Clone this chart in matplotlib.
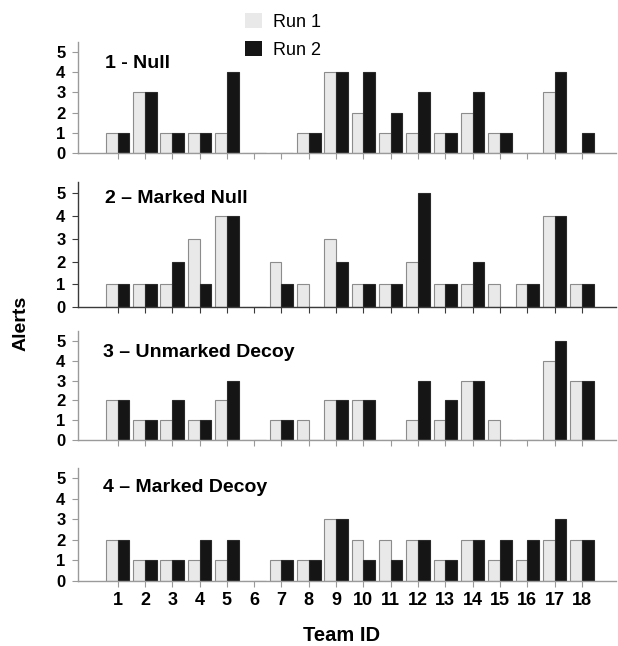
import numpy as np
import matplotlib
matplotlib.use('Agg')
import matplotlib.pyplot as plt
from matplotlib.patches import Patch

plt.rcParams['font.family'] = ['Liberation Sans', 'DejaVu Sans']

teams = list(range(1, 19))
titles = ['1 - Null', '2 \u2013 Marked Null', '3 \u2013 Unmarked Decoy', '4 \u2013 Marked Decoy']

# alerts per team, run 1 / run 2
null_run1 = [1, 3, 1, 1, 1, 0, 0, 1, 4, 2, 1, 1, 1, 2, 1, 0, 3, 0]
null_run2 = [1, 3, 1, 1, 4, 0, 0, 1, 4, 4, 2, 3, 1, 3, 1, 0, 4, 1]
mnull_run1 = [1, 1, 1, 3, 4, 0, 2, 1, 3, 1, 1, 2, 1, 1, 1, 1, 4, 1]
mnull_run2 = [1, 1, 2, 1, 4, 0, 1, 0, 2, 1, 1, 5, 1, 2, 0, 1, 4, 1]
udecoy_run1 = [2, 1, 1, 1, 2, 0, 1, 1, 2, 2, 0, 1, 1, 3, 1, 0, 4, 3]
udecoy_run2 = [2, 1, 2, 1, 3, 0, 1, 0, 2, 2, 0, 3, 2, 3, 0, 0, 5, 3]
mdecoy_run1 = [2, 1, 1, 1, 1, 0, 1, 1, 3, 2, 2, 2, 1, 2, 1, 1, 2, 2]
mdecoy_run2 = [2, 1, 1, 2, 2, 0, 1, 1, 3, 1, 1, 2, 1, 2, 2, 2, 3, 2]

run1 = [null_run1, mnull_run1, udecoy_run1, mdecoy_run1]
run2 = [null_run2, mnull_run2, udecoy_run2, mdecoy_run2]

# axes boxes in figure fractions (left, bottom, width, height)
boxes = [(0.1262, 0.7632, 0.8706, 0.1718),
         (0.1262, 0.5248, 0.8706, 0.1935),
         (0.1262, 0.3189, 0.8706, 0.1687),
         (0.1262, 0.1006, 0.8706, 0.1749)]
title_pos = [(0.050, 0.81), (0.050, 0.864), (0.046, 0.807), (0.046, 0.83)]
spine_col = ['#9a9a9a', '#3a3a3a', '#9a9a9a', '#9a9a9a']

c1 = '#e9e9e9'
c2 = '#151515'
w = 0.43

fig = plt.figure(figsize=(6.18, 6.46), dpi=100)
x = np.array(teams)
for i in range(4):
    ax = fig.add_axes(boxes[i])
    ax.bar(x, run1[i], width=-w, align='edge', color=c1, edgecolor='#8c8c8c', linewidth=0.8)
    ax.bar(x, run2[i], width=w, align='edge', color=c2, edgecolor='#2a2a2a', linewidth=0.8)
    ax.set_xlim(-0.45, 19.25)
    ax.set_ylim(0, 5.5)
    ax.set_yticks(range(6))
    ax.set_xticks(teams)
    for s in ['top', 'right']:
        ax.spines[s].set_visible(False)
    for s in ['left', 'bottom']:
        ax.spines[s].set_color(spine_col[i])
        ax.spines[s].set_linewidth(1.0)
    ax.tick_params(axis='y', length=4, color=spine_col[i], pad=5, labelsize=12)
    ax.tick_params(axis='x', length=4, color=spine_col[i], pad=4, labelsize=13)
    for lab in ax.get_yticklabels():
        lab.set_fontweight('bold')
    if i < 3:
        ax.tick_params(axis='x', labelbottom=False)
    else:
        for lab in ax.get_xticklabels():
            lab.set_fontweight('bold')
    ax.text(title_pos[i][0], title_pos[i][1], titles[i], transform=ax.transAxes,
            ha='left', va='center', fontsize=14, fontweight='bold')

handles = [Patch(facecolor=c1, edgecolor='none', label='Run 1'),
           Patch(facecolor=c2, edgecolor='none', label='Run 2')]
fig.legend(handles=handles, loc='upper left', bbox_to_anchor=(0.376, 1.0),
           frameon=False, fontsize=13, handlelength=0.95, handleheight=0.95,
           handletextpad=0.6, labelspacing=0.55, borderpad=0.2)

fig.text(0.034, 0.50, 'Alerts', rotation=90, ha='center', va='center',
         fontsize=14, fontweight='bold')
fig.text(0.553, 0.0155, 'Team ID', ha='center', va='center',
         fontsize=14.5, fontweight='bold')

fig.savefig('out.png', dpi=100)
